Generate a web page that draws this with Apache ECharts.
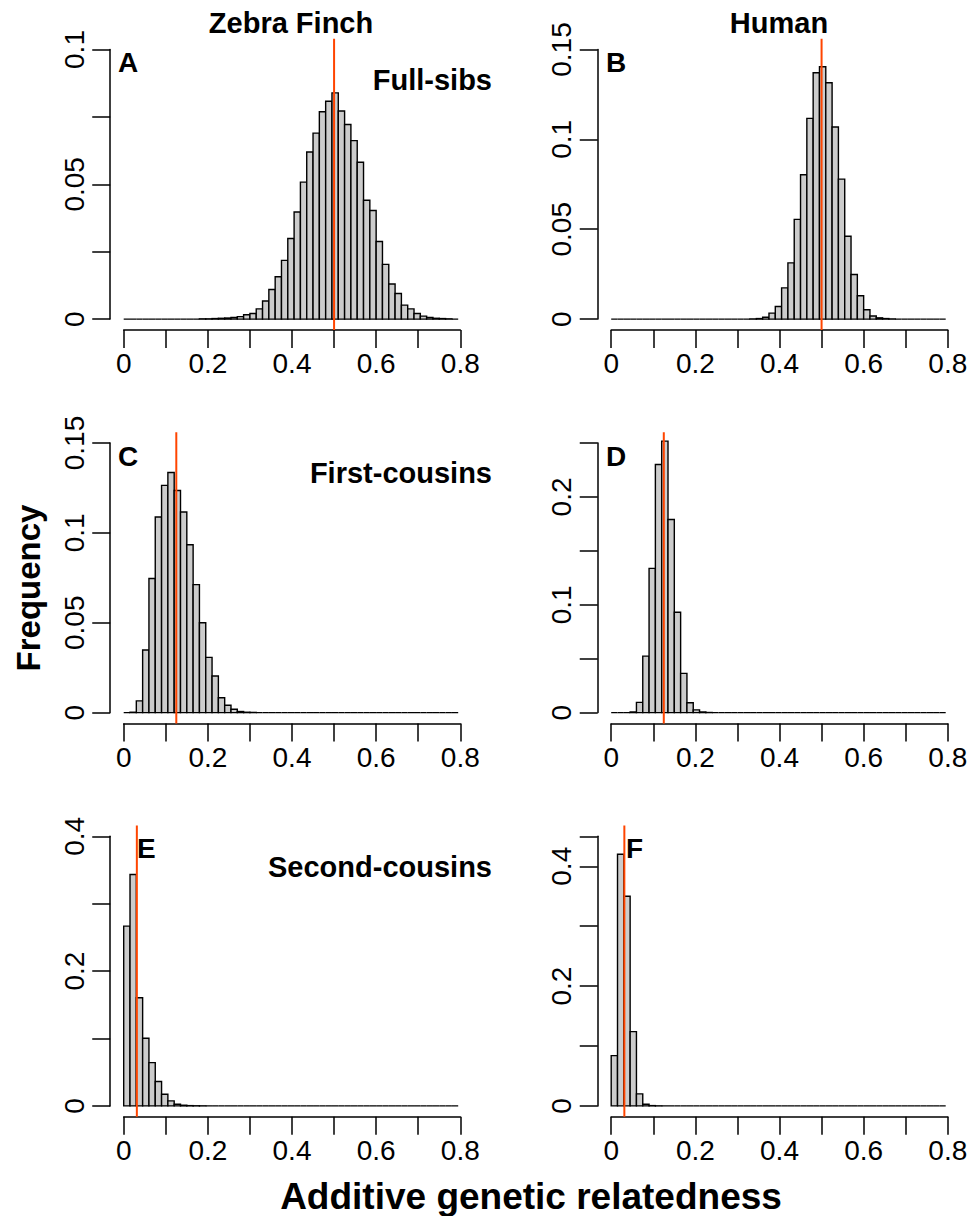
<!DOCTYPE html>
<html><head><meta charset="utf-8">
<script src="https://cdn.jsdelivr.net/npm/echarts@6/dist/echarts.min.js"></script>
<style>html,body{margin:0;padding:0;background:#fff}#c{width:972px;height:1216px}</style>
</head><body><div id="c"></div>
<script>
// ---------- data ----------
const binWidth = 0.015;           // histogram bin width, bins start at 0
const xTickValues = [0, 0.1, 0.2, 0.3, 0.4, 0.5, 0.6, 0.7, 0.8];
const xLabelValues = [0, 0.2, 0.4, 0.6, 0.8];

// frequencies per bin (bin i covers [i*0.015, (i+1)*0.015])
const zebraFullSibs = [0,0,0,0,0,0,0,0,0,0,0,0,0.0001,0.0001,0.0002,0.0003,0.0004,0.0006,0.0009,0.0016,0.0021,0.0038,0.0067,0.011,0.0157,0.0218,0.0299,0.0397,0.0508,0.062,0.069,0.0769,0.0808,0.0839,0.0772,0.0722,0.0662,0.0582,0.0441,0.0403,0.0288,0.0203,0.013,0.0095,0.0052,0.0038,0.0021,0.0011,0.0006,0.0003,0.0002,0.0001,0];
const humanFullSibs = [0,0,0,0,0,0,0,0,0,0,0,0,0,0,0,0,0,0,0,0,0,0,0.0001,0.0003,0.001,0.0033,0.007,0.0174,0.0313,0.0555,0.0803,0.1117,0.1371,0.1404,0.1315,0.1069,0.0779,0.0461,0.0248,0.013,0.0052,0.0017,0.0007,0.0003,0.0001,0,0,0,0,0,0,0,0];
const zebraFirstCousins = [0,0.0002,0.0065,0.0348,0.0746,0.1088,0.1264,0.1336,0.1236,0.1116,0.0934,0.0712,0.05,0.0307,0.0204,0.0083,0.0041,0.0019,0.0006,0.0002,0.0001,0,0,0,0,0,0,0,0,0,0,0,0,0,0,0,0,0,0,0,0,0,0,0,0,0,0,0,0,0,0,0,0];
const humanFirstCousins = [0,0,0,0.0006,0.0095,0.0524,0.1337,0.23,0.2517,0.179,0.093,0.0364,0.0092,0.0025,0.0006,0.0001,0,0,0,0,0,0,0,0,0,0,0,0,0,0,0,0,0,0,0,0,0,0,0,0,0,0,0,0,0,0,0,0,0,0,0,0,0];
const zebraSecondCousins = [0.2667,0.3433,0.1605,0.1003,0.0642,0.0361,0.0173,0.0074,0.0025,0.001,0.0004,0.0002,0.0001,0,0,0,0,0,0,0,0,0,0,0,0,0,0,0,0,0,0,0,0,0,0,0,0,0,0,0,0,0,0,0,0,0,0,0,0,0,0,0,0];
const humanSecondCousins = [0.0839,0.42,0.35,0.1239,0.02,0.0028,0.0005,0.0001,0,0,0,0,0,0,0,0,0,0,0,0,0,0,0,0,0,0,0,0,0,0,0,0,0,0,0,0,0,0,0,0,0,0,0,0,0,0,0,0,0,0,0,0,0];

// expected relatedness (red lines)
const expectedR = [0.5, 0.5, 0.125, 0.125, 0.03125, 0.03125];

// y-axis ranges, ticks and labels per panel
const yMax = [0.1, 0.15, 0.15, 0.25, 0.4, 0.45];
const yTicks = [
  [0, 0.025, 0.05, 0.075, 0.1],
  [0, 0.05, 0.1, 0.15],
  [0, 0.05, 0.1, 0.15],
  [0, 0.05, 0.1, 0.15, 0.2, 0.25],
  [0, 0.1, 0.2, 0.3, 0.4],
  [0, 0.1, 0.2, 0.3, 0.4, 0.45]
];
const yLabels = [
  [0, 0.05, 0.1],
  [0, 0.05, 0.1, 0.15],
  [0, 0.05, 0.1, 0.15],
  [0, 0.1, 0.2],
  [0, 0.2, 0.4],
  [0, 0.2, 0.4]
];
const panelLetters = ['A', 'B', 'C', 'D', 'E', 'F'];
const columnTitles = ['Zebra Finch', 'Human'];
const rowLabels = ['Full-sibs', 'First-cousins', 'Second-cousins'];
const xTitle = 'Additive genetic relatedness';
const yTitle = 'Frequency';

const panelData = [zebraFullSibs, humanFullSibs, zebraFirstCousins, humanFirstCousins, zebraSecondCousins, humanSecondCousins];

// ---------- layout ----------
const FONT = 'Liberation Sans, Arial, Helvetica, sans-serif';
const colLeft = [123.7, 611.2];
const plotW = 336.6;
const rowTop = [49.5, 443.0, 836.3];
const plotH = 269.6;

const grids = [], xAxes = [], yAxes = [], series = [];
for (let p = 0; p < 6; p++) {
  const col = p % 2, row = Math.floor(p / 2);
  grids.push({left: colLeft[col], top: rowTop[row], width: plotW, height: plotH, outerBoundsMode: 'none', containLabel: false});
  xAxes.push({
    gridIndex: p, type: 'value', min: 0, max: 0.8, interval: 0.1,
    offset: Math.round(plotH * 0.04 * 10) / 10,
    axisLine: {show: true, onZero: false, lineStyle: {color: '#000', width: 1.5}},
    axisTick: {show: true, length: 18, customValues: xTickValues, lineStyle: {color: '#000', width: 1.5}},
    axisLabel: {customValues: xLabelValues, fontSize: 28, color: '#000', fontFamily: FONT, margin: 20},
    splitLine: {show: false}
  });
  yAxes.push({
    gridIndex: p, type: 'value', min: 0, max: yMax[p],
    offset: plotW / 0.8 * 0.032,
    axisLine: {show: true, onZero: false, lineStyle: {color: '#000', width: 1.5}},
    axisTick: {show: true, length: 18, customValues: yTicks[p], lineStyle: {color: '#000', width: 1.5}},
    axisLabel: {customValues: yLabels[p], rotate: 90, fontSize: 28, color: '#000', fontFamily: FONT, margin: 22},
    splitLine: {show: false}
  });
  series.push({
    type: 'custom', xAxisIndex: p, yAxisIndex: p, clip: false, silent: true,
    data: panelData[p].map((v, i) => [i * binWidth, (i + 1) * binWidth, v]),
    encode: {x: [0, 1], y: 2},
    renderItem: function (params, api) {
      const a = api.coord([api.value(0), 0]);
      const b = api.coord([api.value(1), api.value(2)]);
      return {type: 'rect', shape: {x: a[0], y: b[1], width: b[0] - a[0], height: a[1] - b[1]},
        style: {fill: '#cccccc', stroke: '#000', lineWidth: 1.4}};
    }
  });
  const ym = yMax[p];
  series.push({
    type: 'custom', xAxisIndex: p, yAxisIndex: p, clip: false, silent: true, z: 5,
    data: [[expectedR[p]]],
    encode: {x: 0},
    renderItem: function (params, api) {
      const t = api.coord([api.value(0), ym * 1.04]);
      const b = api.coord([api.value(0), -ym * 0.04]);
      return {type: 'line', shape: {x1: t[0], y1: t[1], x2: b[0], y2: b[1]},
        style: {stroke: '#FF4500', lineWidth: 2}};
    }
  });
}

function txt(text, x, y, size, align, rot) {
  return {type: 'text', x: x, y: y, rotation: rot || 0,
    style: {text: text, fontSize: size, fontWeight: 'bold', fontFamily: FONT, fill: '#000',
      align: align, verticalAlign: 'middle'}};
}
const graphics = [
  txt(columnTitles[0], 291, 23, 29, 'center'),
  txt(columnTitles[1], 779, 23, 29, 'center'),
  txt(panelLetters[0], 118, 62, 28, 'left'),
  txt(panelLetters[1], 606, 62, 28, 'left'),
  txt(panelLetters[2], 118, 456, 28, 'left'),
  txt(panelLetters[3], 606, 456, 28, 'left'),
  txt(panelLetters[4], 137, 848, 28, 'left'),
  txt(panelLetters[5], 626, 848, 28, 'left'),
  txt(rowLabels[0], 492, 79.5, 29, 'right'),
  txt(rowLabels[1], 492, 473, 29, 'right'),
  txt(rowLabels[2], 492, 866.5, 29, 'right'),
  txt(yTitle, 28, 588, 33, 'center', Math.PI / 2),
  txt(xTitle, 531, 1196, 37, 'center')
];

const chart = echarts.init(document.getElementById('c'), null, {renderer: 'svg', width: 972, height: 1216});
chart.setOption({
  animation: false,
  backgroundColor: '#ffffff',
  grid: grids, xAxis: xAxes, yAxis: yAxes, series: series,
  graphic: graphics
});
</script></body></html>
